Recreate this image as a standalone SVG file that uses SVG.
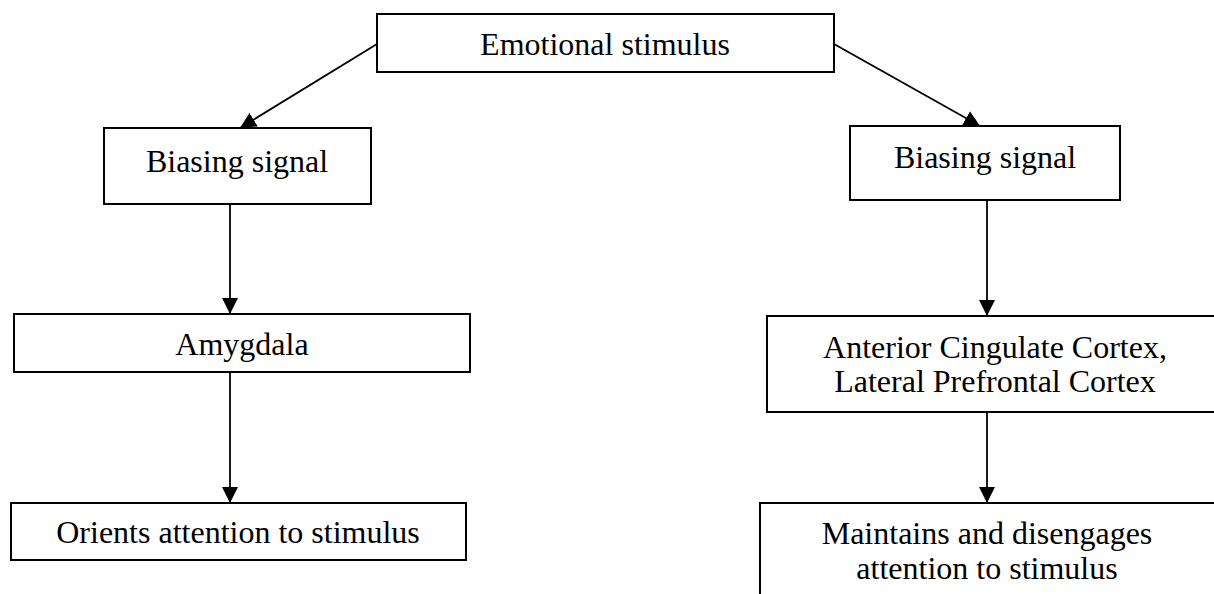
<svg xmlns="http://www.w3.org/2000/svg" width="1214" height="594" viewBox="0 0 1214 594">
<defs>
<style>
.box{fill:#fff;stroke:#000;stroke-width:2}
.t{font-family:"Liberation Serif","Times New Roman",serif;font-size:32px;fill:#000;text-anchor:middle}
.c{stroke:#000;stroke-width:1.8;fill:none;marker-end:url(#ah)}
</style>
<marker id="ah" markerUnits="userSpaceOnUse" markerWidth="16" markerHeight="16" viewBox="0 0 16 16" refX="16" refY="8" orient="auto">
<path d="M0,0 L16,8 L0,16 Z" fill="#000"/>
</marker>
</defs>
<rect width="1214" height="594" fill="#fff"/>
<g id="connectors">
<line class="c" x1="377" y1="44" x2="240" y2="128"/>
<line class="c" x1="834" y1="44" x2="980" y2="126"/>
<line class="c" x1="230" y1="204" x2="230" y2="314"/>
<line class="c" x1="230" y1="372" x2="230" y2="503"/>
<line class="c" x1="987" y1="200" x2="987" y2="316"/>
<line class="c" x1="987" y1="412" x2="987" y2="503"/>
</g>
<g id="emotional-stimulus">
<rect class="box" x="377" y="14" width="457" height="58"/>
<text class="t" x="605" y="55">Emotional stimulus</text>
</g>
<g id="biasing-left">
<rect class="box" x="104" y="128" width="267" height="76"/>
<text class="t" x="237" y="172">Biasing signal</text>
</g>
<g id="biasing-right">
<rect class="box" x="850" y="126" width="270" height="74"/>
<text class="t" x="985" y="168">Biasing signal</text>
</g>
<g id="amygdala">
<rect class="box" x="14" y="314" width="456" height="58"/>
<text class="t" x="242" y="355">Amygdala</text>
</g>
<g id="acc-lpfc">
<rect class="box" x="767" y="316" width="460" height="96"/>
<text class="t" x="995" y="358">Anterior Cingulate Cortex,</text>
<text class="t" x="995" y="392">Lateral Prefrontal Cortex</text>
</g>
<g id="orients">
<rect class="box" x="11" y="503" width="455" height="57"/>
<text class="t" x="238" y="543">Orients attention to stimulus</text>
</g>
<g id="maintains">
<rect class="box" x="760" y="503" width="470" height="110"/>
<text class="t" x="987" y="544">Maintains and disengages</text>
<text class="t" x="987" y="579">attention to stimulus</text>
</g>
</svg>
